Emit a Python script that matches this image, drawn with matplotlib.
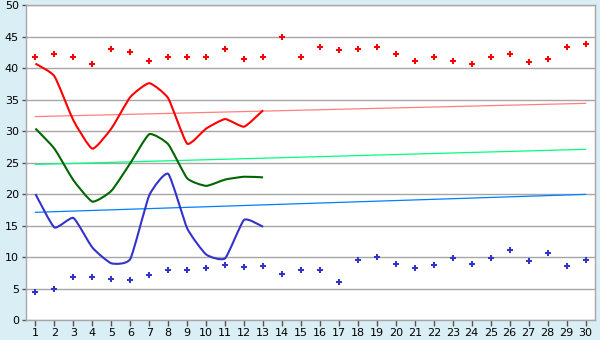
import numpy as np
import matplotlib
matplotlib.use("Agg")
import matplotlib.pyplot as plt
from matplotlib.path import Path
from matplotlib.patches import PathPatch

days = list(range(1, 31))
line_days = list(range(1, 14))

red_points = [41.7, 42.2, 41.7, 40.6, 43.0, 42.5, 41.2, 41.7, 41.7, 41.7,
              43.0, 41.4, 41.7, 45.0, 41.7, 43.4, 42.8, 43.1, 43.3, 42.2,
              41.05, 41.8, 41.2, 40.6, 41.7, 42.3, 40.9, 41.5, 43.3, 43.8]
blue_points = [4.4, 5.0, 6.8, 6.8, 6.5, 6.3, 7.1, 7.9, 7.9, 8.2,
               8.7, 8.4, 8.5, 7.25, 7.9, 7.9, 6.0, 9.5, 9.95, 8.85,
               8.2, 8.7, 9.8, 8.85, 9.8, 11.05, 9.3, 10.6, 8.5, 9.6]

red_line = [40.7, 38.7, 31.7, 27.2, 30.4, 35.4, 37.6, 35.2, 28.0, 30.4, 31.9, 30.7, 33.3]
green_line = [30.4, 27.2, 22.2, 18.8, 20.5, 24.9, 29.5, 27.9, 22.5, 21.3, 22.3, 22.75, 22.65]
blue_line = [20.0, 14.7, 16.2, 11.5, 9.0, 9.7, 19.8, 23.2, 14.55, 10.4, 9.8, 15.9, 14.8]

# trend lines: value at day 1 and day 30
red_trend = [32.3, 34.4]
green_trend = [24.7, 27.1]
blue_trend = [17.1, 19.95]

y_ticks = list(range(0, 51, 5))


def smooth_path(xs, ys, k=12.0):
    # mildly smoothed line (Catmull-Rom style Beziers, low tension)
    pts = np.column_stack([xs, ys]).astype(float)
    n = len(pts)
    verts = [pts[0]]
    codes = [Path.MOVETO]
    for i in range(n - 1):
        p0 = pts[i - 1] if i > 0 else pts[i]
        p1 = pts[i]
        p2 = pts[i + 1]
        p3 = pts[i + 2] if i + 2 < n else pts[i + 1]
        c1 = p1 + (p2 - p0) / k
        c2 = p2 - (p3 - p1) / k
        verts += [c1, c2, p2]
        codes += [Path.CURVE4] * 3
    return Path(verts, codes)


fig = plt.figure(figsize=(6, 3.4), dpi=100, facecolor="#D9EEF5")
ax = fig.add_axes([0.0433, 0.0588, 0.9484, 0.9262])
ax.set_facecolor("white")

ax.set_xlim(0.5, 30.5)
ax.set_ylim(0, 50)
ax.set_yticks(y_ticks)
ax.set_xticks(days)
ax.yaxis.grid(True, color="#A6A6A6", linewidth=1.0)
ax.set_axisbelow(True)

for s in ax.spines.values():
    s.set_color("#A6A6A6")
    s.set_linewidth(1.0)

ax.tick_params(axis="y", length=3, width=1, color="#555555", labelsize=8, pad=2)
ax.tick_params(axis="x", length=4, width=1, color="#555555", labelsize=8, pad=2)

# trend lines
ax.plot([days[0], days[-1]], red_trend, color="#FF7F7F", linewidth=0.9)
ax.plot([days[0], days[-1]], green_trend, color="#00FF7F", linewidth=0.9)
ax.plot([days[0], days[-1]], blue_trend, color="#007FFF", linewidth=0.9)

# smoothed lines
for vals, col in [(red_line, "#FF0000"), (green_line, "#006600"), (blue_line, "#3333CC")]:
    ax.add_patch(PathPatch(smooth_path(line_days, vals), facecolor="none",
                           edgecolor=col, linewidth=1.5, zorder=3))

# markers
ax.plot(days, red_points, linestyle="none", marker="P", markersize=4.5,
        color="#FF0000", markeredgewidth=0, zorder=4)
ax.plot(days, blue_points, linestyle="none", marker="P", markersize=4.5,
        color="#3333CC", markeredgewidth=0, zorder=4)

fig.savefig("out.png", dpi=100, facecolor=fig.get_facecolor())
